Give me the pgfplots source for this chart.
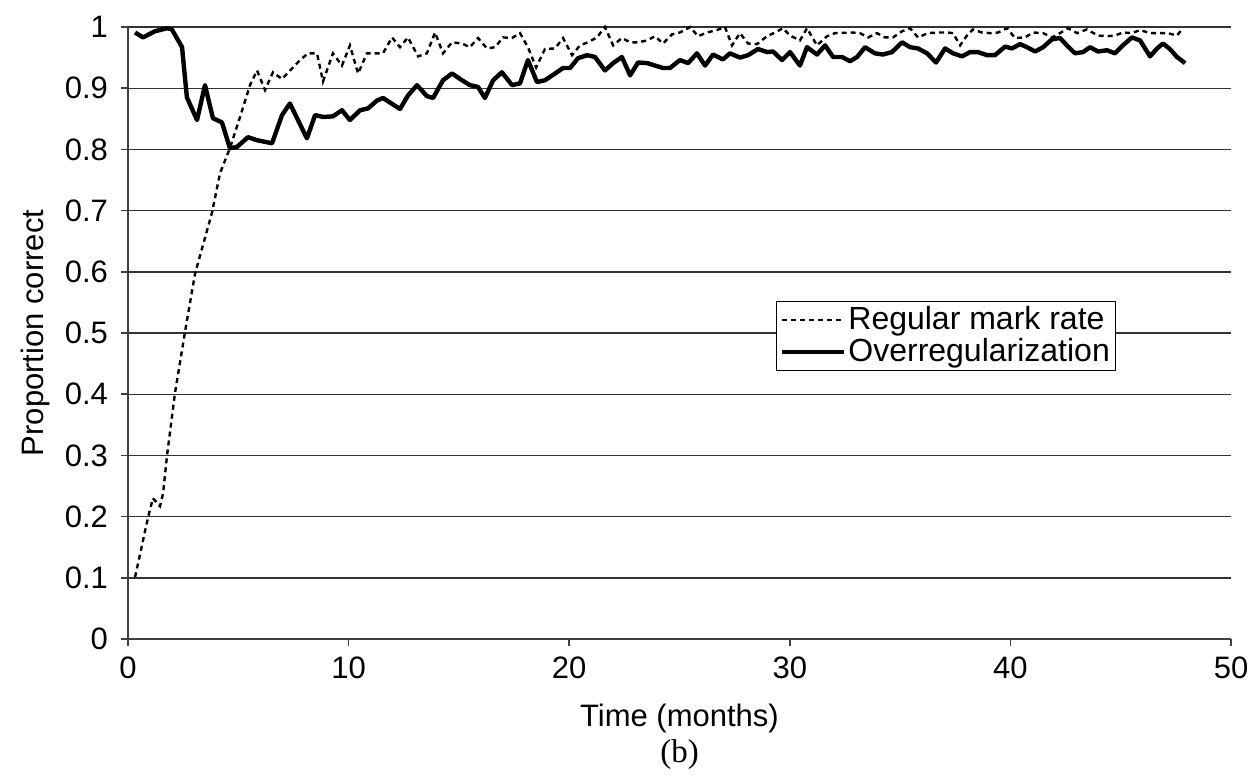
\documentclass[border=0pt]{standalone}
\usepackage{fontspec}
\setmainfont{Liberation Sans}
\newfontfamily\serifb{Liberation Serif}
\usepackage{pgfplots}
\pgfplotsset{compat=1.18}
\usepackage{pgfplotstable}

\pgfplotstableread{
x y
0.32 0.991
0.68 0.983
1.22 0.993
1.77 0.998
1.99 0.996
2.45 0.967
2.67 0.885
3.13 0.848
3.49 0.905
3.85 0.851
4.26 0.844
4.62 0.802
4.94 0.804
5.44 0.820
5.85 0.815
6.53 0.810
6.98 0.856
7.34 0.875
8.11 0.818
8.48 0.856
8.84 0.853
9.29 0.854
9.70 0.864
10.06 0.848
10.52 0.864
10.88 0.867
11.29 0.880
11.56 0.884
12.33 0.866
12.69 0.888
13.10 0.905
13.55 0.887
13.83 0.884
14.28 0.913
14.69 0.924
15.14 0.913
15.50 0.905
15.87 0.902
16.18 0.884
16.55 0.913
16.95 0.926
17.41 0.905
17.77 0.908
18.13 0.946
18.54 0.910
18.90 0.913
19.36 0.924
19.72 0.933
20.04 0.933
20.40 0.949
20.81 0.954
21.17 0.951
21.62 0.929
21.99 0.941
22.39 0.951
22.76 0.921
23.12 0.942
23.53 0.941
23.89 0.937
24.25 0.933
24.57 0.933
25.02 0.946
25.39 0.941
25.79 0.957
26.16 0.937
26.52 0.955
26.97 0.947
27.29 0.957
27.74 0.950
28.11 0.954
28.56 0.964
28.97 0.959
29.24 0.960
29.65 0.946
30.01 0.959
30.46 0.937
30.78 0.967
31.23 0.955
31.60 0.970
31.96 0.951
32.37 0.951
32.73 0.944
33.05 0.951
33.41 0.967
33.86 0.957
34.22 0.955
34.63 0.959
35.09 0.975
35.45 0.967
35.81 0.965
36.22 0.957
36.63 0.942
37.04 0.965
37.40 0.957
37.81 0.952
38.17 0.959
38.53 0.959
38.94 0.954
39.30 0.954
39.76 0.968
40.07 0.965
40.44 0.972
40.75 0.967
41.12 0.960
41.48 0.967
41.89 0.980
42.25 0.982
42.61 0.968
42.93 0.957
43.29 0.959
43.61 0.967
43.97 0.960
44.38 0.962
44.74 0.957
45.10 0.970
45.51 0.983
45.88 0.978
46.33 0.952
46.65 0.965
46.92 0.973
47.23 0.964
47.55 0.951
47.92 0.941
}\solidtab

\pgfplotstableread{
x y
0.32 0.101
0.91 0.199
1.13 0.230
1.45 0.217
1.59 0.238
1.77 0.300
2.13 0.402
2.58 0.501
3.04 0.597
3.81 0.697
4.17 0.761
4.62 0.802
5.08 0.853
5.53 0.905
5.85 0.929
6.21 0.897
6.57 0.926
6.98 0.915
7.80 0.946
8.16 0.957
8.57 0.957
8.84 0.911
9.29 0.957
9.70 0.937
10.06 0.970
10.43 0.924
10.83 0.957
11.56 0.957
11.97 0.983
12.33 0.967
12.69 0.983
13.15 0.952
13.55 0.957
13.92 0.991
14.28 0.957
14.69 0.975
15.14 0.973
15.50 0.967
15.87 0.982
16.27 0.965
16.64 0.967
17.00 0.983
17.41 0.982
17.77 0.990
18.13 0.967
18.50 0.934
18.90 0.964
19.36 0.965
19.72 0.982
20.13 0.954
20.49 0.970
20.85 0.975
21.26 0.983
21.62 1.000
21.99 0.970
22.39 0.982
22.76 0.975
23.12 0.975
23.53 0.978
23.89 0.985
24.25 0.973
24.66 0.988
25.02 0.991
25.48 1.000
25.84 0.985
26.25 0.991
26.70 0.995
27.06 1.000
27.38 0.970
27.74 0.990
28.11 0.973
28.51 0.972
28.97 0.985
29.33 0.991
29.69 0.998
30.01 0.986
30.46 0.978
30.78 0.998
31.23 0.970
31.69 0.985
32.05 0.990
32.82 0.991
33.18 0.990
33.55 0.983
33.95 0.990
34.32 0.983
34.68 0.983
35.09 0.993
35.45 0.998
35.81 0.983
36.27 0.990
36.72 0.991
37.13 0.991
37.40 0.990
37.72 0.970
38.03 0.986
38.30 0.996
38.71 0.991
39.08 0.990
39.44 0.991
39.85 0.998
40.21 0.982
40.66 0.983
41.03 0.991
41.48 0.990
41.89 0.983
42.25 0.990
42.61 0.998
43.02 0.990
43.47 0.996
43.97 0.986
44.38 0.985
44.74 0.986
45.10 0.991
45.51 0.990
45.88 0.995
46.33 0.990
46.78 0.990
47.14 0.990
47.55 0.986
47.82 0.998
}\dashtab

\begin{document}
\begin{tikzpicture}
\begin{axis}[
  name=ax,
  scale only axis,
  width=551.5pt, height=306pt,
  xmin=0, xmax=50, ymin=0, ymax=1,
  xtick={0,10,20,30,40,50},
  ytick={0,0.1,0.2,0.3,0.4,0.5,0.6,0.7,0.8,0.9,1},
  yticklabels={0,0.1,0.2,0.3,0.4,0.5,0.6,0.7,0.8,0.9,1},
  axis x line*=bottom, axis y line*=left,
  axis line style={black!75, line width=0.8pt, -},
  ymajorgrids,
  grid style={black!80, line width=0.7pt},
  tick style={black!75, line width=0.8pt},
  tick align=outside,
  major tick length=3.5pt,
  /pgf/number format/assume math mode=true,
  tick label style={font=\fontsize{15.5}{18}\selectfont},
  xticklabel style={yshift=-2pt},
  yticklabel style={xshift=-3pt},
  clip=false,
  legend style={
    at={(rel axis cs:0.5875,0.438)}, anchor=south west,
    draw=black, line width=0.6pt, inner sep=1.5pt,
    font=\fontsize{16}{18}\selectfont,
    row sep=0.5pt,
    nodes={inner sep=1.2pt},
  },
  legend cell align=left,
  legend image code/.code={\draw[#1] (0pt,0pt) -- (31pt,0pt);},
]
\addplot[black, line width=1.2pt, dash pattern=on 2.5pt off 2pt] table[x=x,y=y] {\dashtab};
\addlegendentry{Regular mark rate}
\addplot[black, line width=2.2pt, line join=round] table[x=x,y=y] {\solidtab};
\addlegendentry{Overregularization}
\end{axis}
\node[font=\fontsize{15.5}{18}\selectfont] at ([yshift=-39.5pt]ax.south) {Time (months)};
\node[font=\serifb\fontsize{16.5}{18}\selectfont] at ([yshift=-58pt]ax.south) {(b)};
\node[rotate=90, font=\fontsize{15.5}{18}\selectfont] at ([xshift=-46.5pt]ax.west) {Proportion correct};
\pgfresetboundingbox
\useasboundingbox ([xshift=-64pt,yshift=-69.5pt]ax.south west) rectangle ([xshift=11pt,yshift=13.5pt]ax.north east);
\end{tikzpicture}
\end{document}
